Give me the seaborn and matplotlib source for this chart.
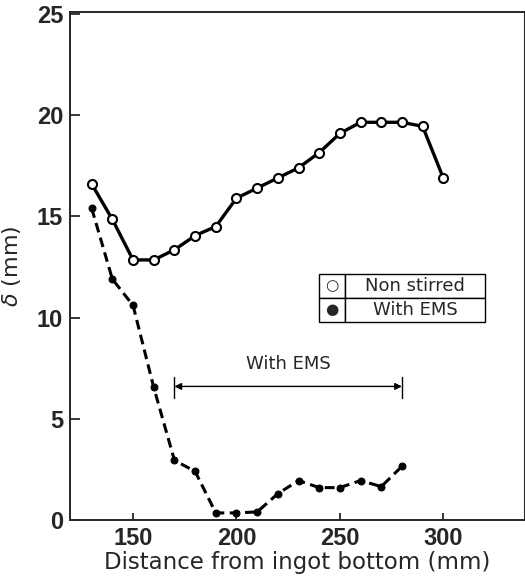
import matplotlib
matplotlib.use("Agg")
import matplotlib.pyplot as plt
import numpy as np
import pandas as pd
import seaborn as sns

# Distance from ingot bottom (mm) and delta (mm)
dist_non = [130, 140, 150, 160, 170, 180, 190, 200, 210, 220, 230, 240,
            250, 260, 270, 280, 290, 300]
delta_non = [16.6, 14.85, 12.85, 12.85, 13.35, 14.05, 14.5, 15.9, 16.4, 16.9,
             17.4, 18.15, 19.1, 19.65, 19.65, 19.65, 19.45, 16.9]

dist_ems = [130, 140, 150, 160, 170, 180, 190, 200, 210, 220, 230, 240,
            250, 260, 270, 280]
delta_ems = [15.4, 11.9, 10.6, 6.55, 2.95, 2.4, 0.35, 0.35, 0.4, 1.3, 1.95,
             1.6, 1.6, 1.95, 1.65, 2.65]

series_names = ["Non stirred", "With EMS"]
ems_range = (170, 280)

sns.set_theme(style="ticks")
plt.rcParams["font.family"] = ["DejaVu Sans"]
tick_font = ["Liberation Sans Narrow", "Liberation Sans", "DejaVu Sans"]

df_non = pd.DataFrame({"dist": dist_non, "delta": delta_non})
df_ems = pd.DataFrame({"dist": dist_ems, "delta": delta_ems})

fig = plt.figure(figsize=(5.25, 5.79), dpi=100)
ax = fig.add_axes([0.1333, 0.1019, 0.8647, 0.8774])

sns.lineplot(data=df_non, x="dist", y="delta", ax=ax, color="black",
             linewidth=2.4, marker="o", markersize=6.5,
             markerfacecolor="white", markeredgecolor="black",
             markeredgewidth=1.5, zorder=3)
sns.lineplot(data=df_ems, x="dist", y="delta", ax=ax, color="black",
             linewidth=2.2, linestyle=(0, (3.2, 1.8)), marker="o",
             markersize=5, markerfacecolor="black",
             markeredgecolor="black", zorder=3)

ax.set_xlim(119.5, 339)
ax.set_ylim(0, 25.1)
ax.set_xticks([150, 200, 250, 300])
ax.set_yticks([0, 5, 10, 15, 20, 25])
ax.tick_params(axis="y", direction="in", length=7, width=1.3, pad=5)
ax.tick_params(axis="x", direction="in", length=5, width=1.3, pad=5)
for lab in ax.get_xticklabels() + ax.get_yticklabels():
    lab.set_fontweight("bold")
    lab.set_family(tick_font)
    lab.set_fontsize(17)
for sp in ax.spines.values():
    sp.set_linewidth(1.4)
    sp.set_visible(True)
ax.spines["right"].set_linewidth(0.8)

ax.set_xlabel("Distance from ingot bottom (mm)", fontsize=16.5, labelpad=1)
ax.set_ylabel(r"$\delta$ (mm)", fontsize=16, labelpad=10)

# range bar for EMS
ax.annotate("", xy=(ems_range[0], 6.6), xytext=(ems_range[1], 6.6),
            arrowprops=dict(arrowstyle="<|-|>", color="black", lw=1.0,
                            mutation_scale=10, shrinkA=0, shrinkB=0))
for xe in ems_range:
    ax.plot([xe, xe], [6.05, 7.05], color="black", lw=1.0)
ax.text(np.mean(ems_range), 7.25, "With EMS", ha="center", va="bottom",
        fontsize=13)

# table-style legend
tbl = ax.table(cellText=[["\u25cb", series_names[0]], ["\u25cf", series_names[1]]],
               cellLoc="center", colWidths=[0.157, 0.843],
               bbox=[0.549, 0.39, 0.365, 0.095])
tbl.auto_set_font_size(False)
for (r, c), cell in tbl.get_celld().items():
    cell.set_linewidth(1.0)
    cell.set_edgecolor("black")
    cell.get_text().set_fontsize(13)
    if c == 0:
        cell.get_text().set_fontsize(11)

fig.savefig("out.png", dpi=100)
